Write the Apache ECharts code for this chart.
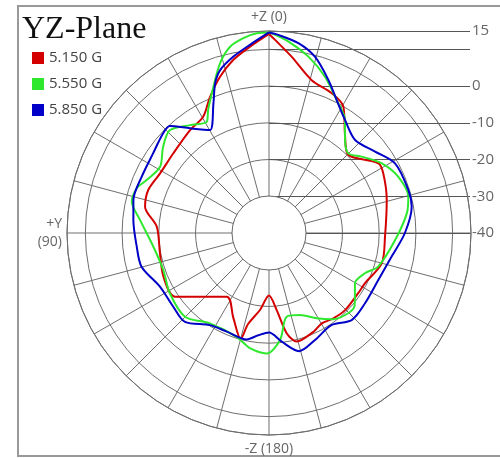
<!DOCTYPE html>
<html><head><meta charset="utf-8">
<script src="https://cdn.jsdelivr.net/npm/echarts@6/dist/echarts.min.js"></script>
<style>html,body{margin:0;padding:0;background:#fff}#c{width:500px;height:458px}</style>
</head><body><div id="c"></div>
<script>
const seriesNames = ['5.150 G', '5.550 G', '5.850 G'];
const seriesColors = ['#d40000', '#2ee82e', '#0000c8'];

const redAngles = [0, 5.8, 11.7, 17.4, 23.4, 29.5, 37.5, 50.2, 61.3, 70.4, 78.0, 86.8, 100.5, 112.5, 124.1, 146.4, 157.1, 165.0, 167.0, 173.3, 180, 185.7, 190, 194.3, 204.2, 210.3, 217, 224.6, 236, 242.4, 255, 268.2, 285.7, 297.6, 302.5, 312.7, 316.3, 322.7, 329.5, 335.8, 344.4, 352.7, 358.2, 360];
const redDb = [14.2, 11.0, 8.1, 4.6, 0.4, -3.6, -4.7, -6.1, -6.2, -5.1, -5.5, -9.4, -9.8, -8.9, -9.1, -19.2, -15.0, -10.2, -14.5, -18.9, -23.0, -18.9, -12.3, -9.5, -10.5, -11.5, -10.9, -10.5, -10.7, -10.5, -8.2, -8.4, -6.7, -4.9, -4.7, -9.4, -9.4, -5.9, -0.1, 1.7, 3.2, 8.4, 12.6, 14.2];

const greenAngles = [0, 3.5, 7.5, 11.8, 16.1, 20.8, 26.3, 29.2, 36.2, 43.9, 50.8, 58.7, 66.6, 71.3, 77.2, 84.2, 96.8, 109.3, 121.3, 134.9, 146.8, 162.7, 170.6, 178.9, 185.9, 191.9, 200.7, 209.2, 216.5, 229.2, 233.5, 239.7, 247.2, 252.9, 266.8, 278.1, 284.6, 293.5, 301.7, 309.5, 315.1, 320.7, 326.1, 333, 340.3, 347.4, 354.2, 359.2, 360];
const greenDb = [14.6, 14.5, 13.5, 11.8, 8.1, 2.6, -2.6, -5.3, -3.6, -1.1, -2.8, -5.3, -3.7, -2.0, -1.7, -4.7, -8.3, -9.5, -8.4, -7.7, -10.6, -10.4, -8.2, -7.2, -10.7, -16.7, -16.1, -13.4, -10.8, -9.3, -10.9, -12.9, -11.7, -8.9, -5.6, -2.1, -0.8, -1.6, -3.9, -7.3, -9.4, -7.3, -2.9, 0.6, 5.2, 9.2, 12.4, 14.4, 14.6];

const blueAngles = [0, 5.8, 11.4, 16.7, 19.8, 23.2, 29.8, 37.0, 42.8, 46.7, 55.4, 66.1, 76.3, 84.5, 95.9, 104.8, 116.2, 127.6, 136.6, 147.3, 156.8, 168.2, 174, 180, 186.7, 194.3, 203.3, 214.3, 223.5, 233.8, 246.7, 259.1, 270, 280.4, 287.2, 298.9, 307.5, 317.2, 326.1, 333, 338.8, 345.4, 351.2, 357.3, 360];
const blueDb = [14.6, 11.5, 9.0, 6.3, 3.3, -1.6, -7.7, -4.3, -0.3, -0.4, -1.7, -2.1, -2.0, -2.9, -3.8, -4.1, -6.9, -7.1, -6.7, -10.2, -10.8, -10.4, -12.0, -12.9, -10.2, -6.8, -8.3, -9.7, -7.3, -7.6, -7.6, -6.0, -3.0, -0.5, -0.3, -0.8, -3.6, -5.5, -2.9, 0.6, 4.7, 9.6, 12.3, 14.0, 14.6];

const radialLabelValues = [15, 0, -10, -20, -30, -40];
const angleLabelText = {0: '+Z (0)', 90: '+Y\n(90)', 180: '-Z (180)'};

const allAngles = [redAngles, greenAngles, blueAngles];
const allDb = [redDb, greenDb, blueDb];

const chart = echarts.init(document.getElementById('c'), null, {renderer: 'canvas'});
const GRID = '#6e6e6e';
const option = {
  animation: false,
  backgroundColor: '#fff',
  title: {
    text: 'YZ-Plane', left: 22, top: 14, padding: 0,
    textStyle: {fontFamily: 'Liberation Serif', fontSize: 32, fontWeight: 'normal', color: '#111'}
  },
  legend: {
    orient: 'vertical', left: 32, top: 49, padding: 0,
    itemWidth: 12, itemHeight: 12, itemGap: 8, icon: 'rect',
    textStyle: {fontFamily: 'Open Sans', fontSize: 15, color: '#444', lineHeight: 18},
    data: seriesNames
  },
  graphic: [{
    type: 'rect', shape: {x: 18, y: 6, width: 520, height: 450},
    style: {fill: 'none', stroke: '#999', lineWidth: 2}, silent: true, z: 0
  }],
  polar: [
    {center: [269, 233], radius: 202},
    {center: [269, 233], radius: 37}
  ],
  angleAxis: [
    {
      polarIndex: 0, type: 'value', min: 0, max: 360, interval: 15,
      startAngle: 90, clockwise: false, z: 1,
      axisLine: {lineStyle: {color: GRID, width: 1}},
      axisTick: {show: false},
      axisLabel: {
        margin: 5, color: '#666', fontSize: 14, fontFamily: 'Open Sans', lineHeight: 18,
        formatter: v => (angleLabelText[v] !== undefined ? angleLabelText[v] : '')
      },
      splitLine: {lineStyle: {color: GRID, width: 1}}
    },
    {
      polarIndex: 1, type: 'value', min: 0, max: 360, interval: 90,
      startAngle: 90, clockwise: false, z: 2,
      axisLine: {lineStyle: {color: GRID, width: 1}},
      axisTick: {show: false}, axisLabel: {show: false},
      splitLine: {lineStyle: {color: GRID, width: 1}},
      splitArea: {show: true, areaStyle: {color: ['#ffffff']}}
    }
  ],
  radiusAxis: [
    {
      polarIndex: 0, type: 'value', min: -40, max: 15, interval: 10, z: 1,
      axisLine: {show: false}, axisTick: {show: false}, axisLabel: {show: false},
      splitLine: {lineStyle: {color: GRID, width: 1}}
    },
    {polarIndex: 1, type: 'value', min: 0, max: 1, show: false}
  ],
  grid: {left: 269, right: 30, top: 31, bottom: 225},
  xAxis: {type: 'value', min: 0, max: 1, show: false},
  yAxis: {
    type: 'value', position: 'right', min: -40, max: 15, interval: 10, z: 1,
    axisLine: {show: false}, axisTick: {show: false},
    splitLine: {show: true, lineStyle: {color: '#555', width: 1}},
    axisLabel: {
      color: '#666', fontSize: 15, fontFamily: 'Open Sans', margin: 2,
      formatter: v => (radialLabelValues.includes(v) ? String(v) : '')
    }
  },
  series: seriesNames.map((name, i) => ({
    name, type: 'line', coordinateSystem: 'polar', polarIndex: 0,
    showSymbol: false, symbol: 'none', smooth: 0.3, z: 3 + i,
    itemStyle: {color: seriesColors[i]},
    lineStyle: {color: seriesColors[i], width: 2},
    data: allAngles[i].map((a, k) => [allDb[i][k], a])
  }))
};
chart.setOption(option);
</script>
</body></html>
